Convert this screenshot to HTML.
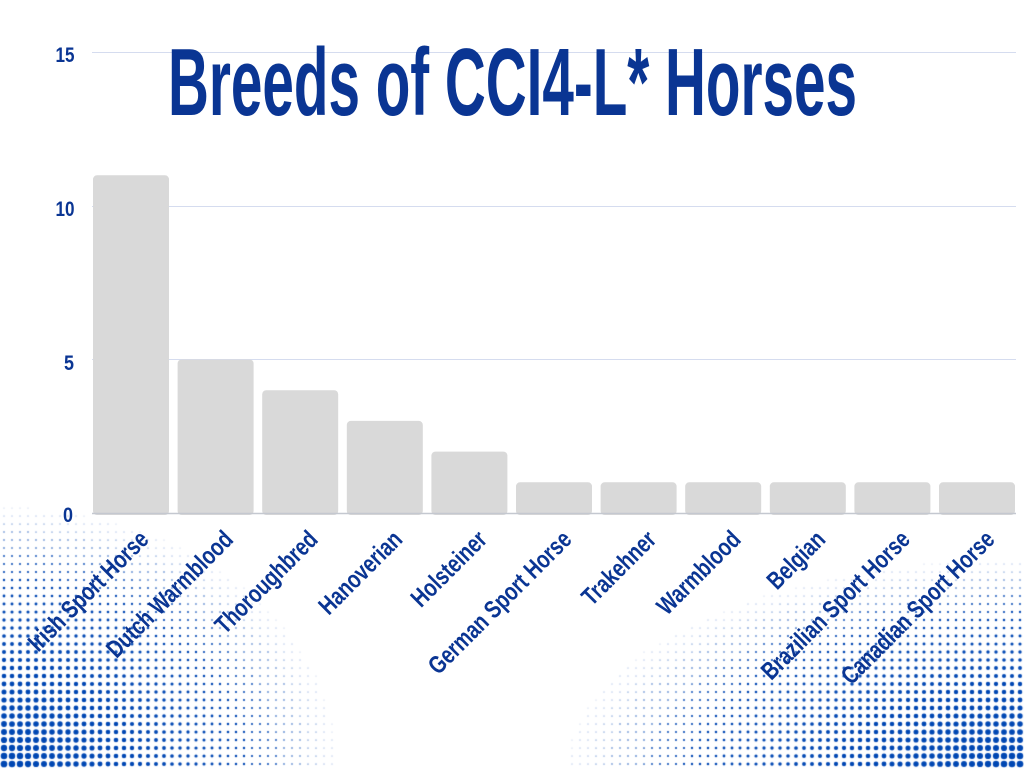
<!DOCTYPE html>
<html><head><meta charset="utf-8"><style>
html,body{margin:0;padding:0;background:#fff;width:1024px;height:768px;overflow:hidden}
canvas,svg{position:absolute;left:0;top:0}
</style></head><body>
<canvas id="c" width="1024" height="768"></canvas>
<svg width="1024" height="768" xmlns="http://www.w3.org/2000/svg" font-family="'Liberation Sans Narrow','Liberation Sans',sans-serif" font-weight="bold">
<g stroke="#d5dcef" stroke-width="1">
<line x1="92" y1="52.5" x2="1016" y2="52.5"/>
<line x1="92" y1="206.5" x2="1016" y2="206.5"/>
<line x1="92" y1="359.5" x2="1016" y2="359.5"/>
</g>
<text x="168" y="115" font-size="96" fill="#0a3593" textLength="689" lengthAdjust="spacingAndGlyphs">Breeds of CCI4-L* Horses</text>
<g fill="#0a3593" font-size="21" text-anchor="middle">
<text x="65" y="62" textLength="19" lengthAdjust="spacingAndGlyphs">15</text>
<text x="65" y="216" textLength="19" lengthAdjust="spacingAndGlyphs">10</text>
<text x="69" y="370" textLength="10" lengthAdjust="spacingAndGlyphs">5</text>
<text x="68" y="522" textLength="10" lengthAdjust="spacingAndGlyphs">0</text>
</g>
<g fill="#d9d9d9" id="bars"></g>
<line x1="92" y1="513.5" x2="1016" y2="513.5" stroke="#c4c8d0" stroke-width="1.5"/>
<g fill="#0a3593" font-size="25" text-anchor="end" id="labels"></g>
</svg>
<script>
var names=["Irish Sport Horse","Dutch Warmblood","Thoroughbred","Hanoverian","Holsteiner","German Sport Horse","Trakehner","Warmblood","Belgian","Brazilian Sport Horse","Canadian Sport Horse"];
var vals=[11,5,4,3,2,1,1,1,1,1,1];
var ns="http://www.w3.org/2000/svg";
var bars=document.getElementById("bars"),labs=document.getElementById("labels");
for(var i=0;i<11;i++){
 var x=93+i*84.6, h=vals[i]*30.7, r=document.createElementNS(ns,"rect");
 r.setAttribute("x",x);r.setAttribute("y",513-h);r.setAttribute("width",76);r.setAttribute("height",h+2);r.setAttribute("rx",4);
 bars.appendChild(r);
 var t=document.createElementNS(ns,"text"),cx=x+38+19,cy=541;
 t.setAttribute("x",0);t.setAttribute("y",0);
 t.setAttribute("transform","translate("+cx+" "+cy+") rotate(-45) scale(0.78 1)");
 t.textContent=names[i];labs.appendChild(t);
}
var ctx=document.getElementById("c").getContext("2d");
ctx.fillStyle="#0047b3";
for(var y=764;y>500;y-=8){
 for(var x=4;x<1030;x+=8){
  var r=0;
  var d1=Math.hypot(x*0.85,(768-y)*1.1);
  var a=3.4*(1-d1/320); if(a>r)r=a;
  var d2=Math.hypot((1024-x)*0.55,(768-y)*1.2);
  var b=3.4*(1-d2/280); if(b>r)r=b;
  if(r>0.35){ctx.beginPath();ctx.arc(x,y,r,0,6.2832);ctx.fill();}
 }
}
</script>
</body></html>
